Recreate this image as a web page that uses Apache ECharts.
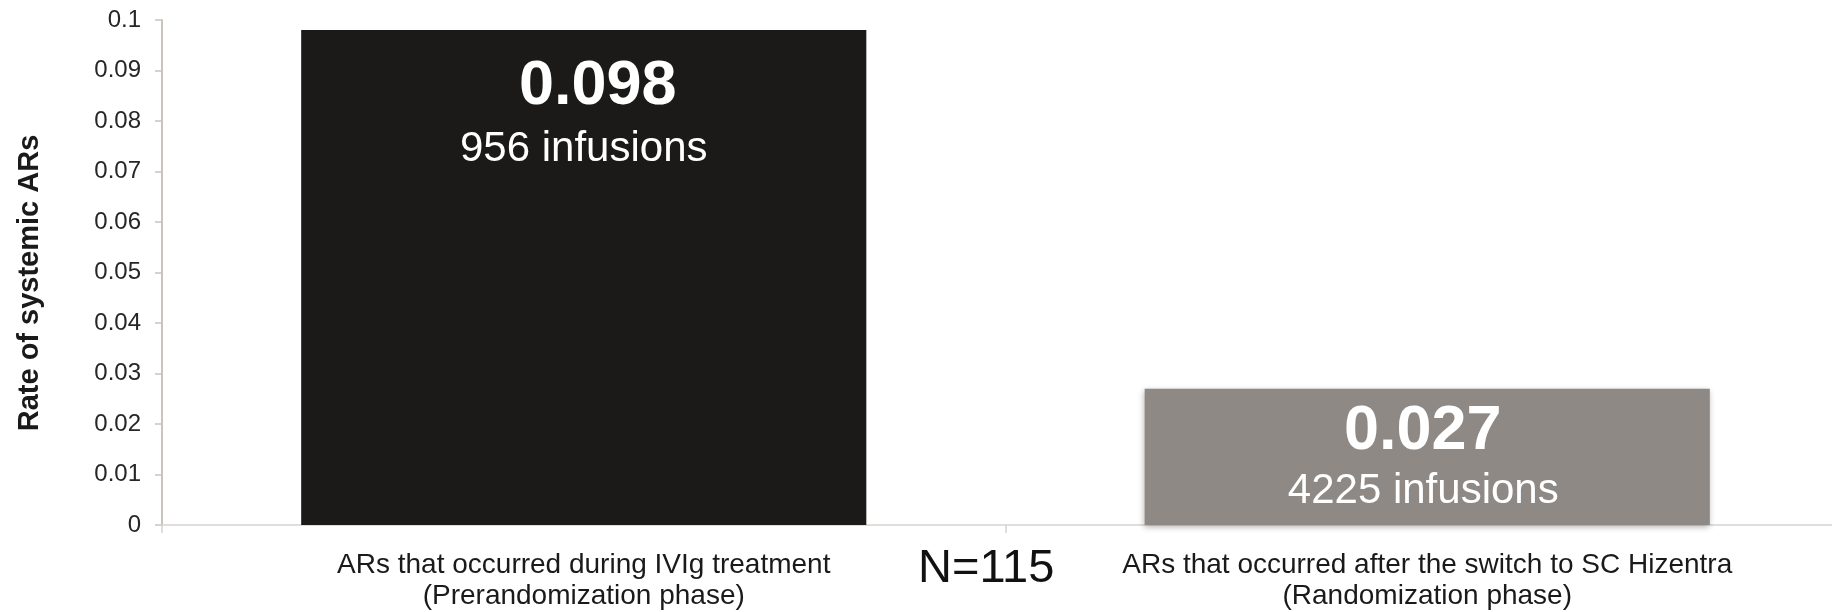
<!DOCTYPE html>
<html>
<head>
<meta charset="utf-8">
<script src="https://cdn.jsdelivr.net/npm/echarts@6/dist/echarts.min.js"></script>
<style>
  html, body { margin: 0; padding: 0; background: #ffffff; overflow: hidden; }
  /* the category axis runs a little past the right edge of the page */
  #chart { width: 1860px; height: 612px; }
</style>
</head>
<body>
<div id="chart"></div>
<script>
// Systemic adverse reaction rates before and after the switch to SC Hizentra
const categories = [
  'ARs that occurred during IVIg treatment\n(Prerandomization phase)',
  'ARs that occurred after the switch to SC Hizentra\n(Randomization phase)'
];
const rates = [0.098, 0.027];
const infusions = [956, 4225];
const barColors = ['#1c1a18', '#8e8985'];
const sampleNote = 'N=115';
const yTicks = { min: 0, max: 0.1, interval: 0.01 };

const FONT = '"Liberation Sans", Arial, Helvetica, sans-serif';

const chart = echarts.init(document.getElementById('chart'), null, { renderer: 'canvas' });

// per-bar placement of the in-bar value labels (horizontal nudge in px, + = right)
const labelDistance = [25, 11];
const valueShift = [28, -9];
const countShift = [0, -8];
const countLineHeight = [60, 55];

const nudge = s => (s >= 0 ? [0, 0, 0, s] : [0, -s, 0, 0]);

const option = {
  backgroundColor: '#ffffff',
  animation: false,
  grid: { left: 162, top: 20, bottom: 80, width: 1687, containLabel: false },
  xAxis: {
    type: 'category',
    data: categories,
    axisLine: { show: true, lineStyle: { color: '#d6d2ce', width: 1.5 } },
    axisTick: { show: true, alignWithLabel: false, length: 8, lineStyle: { color: '#d6d2ce', width: 1.5 } },
    axisLabel: {
      color: '#1a1a1a', fontFamily: FONT, fontSize: 28, lineHeight: 31, margin: 25,
      interval: 0
    },
    splitLine: { show: false }
  },
  yAxis: {
    type: 'value',
    min: yTicks.min, max: yTicks.max, interval: yTicks.interval,
    name: 'Rate of systemic ARs',
    nameLocation: 'middle',
    nameGap: 118,
    nameRotate: 90,
    nameTextStyle: {
      color: '#1a1a1a', fontFamily: FONT, fontSize: 29, fontWeight: 'bold',
      padding: [0, 21, 0, 0]
    },
    axisLine: { show: true, lineStyle: { color: '#c9c4bd', width: 2 } },
    axisTick: { show: true, inside: false, length: 7, lineStyle: { color: '#c9c4bd', width: 1.5 } },
    axisLabel: { color: '#262626', fontFamily: FONT, fontSize: 24, margin: 21 },
    splitLine: { show: false }
  },
  series: [{
    type: 'bar',
    barWidth: '67%',
    data: rates.map((v, i) => ({
      value: v,
      itemStyle: i === 1
        ? { color: barColors[i], shadowColor: 'rgba(0,0,0,0.3)', shadowBlur: 6, shadowOffsetX: -1, shadowOffsetY: 2 }
        : { color: barColors[i] },
      label: {
        distance: labelDistance[i],
        rich: {
          v: {
            color: '#ffffff', fontFamily: FONT, fontSize: 63, fontWeight: 'bold', lineHeight: 64,
            align: 'center', padding: nudge(valueShift[i])
          },
          n: {
            color: '#ffffff', fontFamily: FONT, fontSize: 42, lineHeight: countLineHeight[i],
            align: 'center', padding: nudge(countShift[i])
          }
        }
      }
    })),
    label: {
      show: true,
      position: 'insideTop',
      formatter: p => '{v|' + rates[p.dataIndex] + '}\n{n|' + infusions[p.dataIndex] + ' infusions}'
    }
  }],
  graphic: [{
    type: 'text',
    left: 918,
    top: 546,
    style: { text: sampleNote, fill: '#111111', font: '47px ' + FONT }
  }]
};

chart.setOption(option);
</script>
</body>
</html>
